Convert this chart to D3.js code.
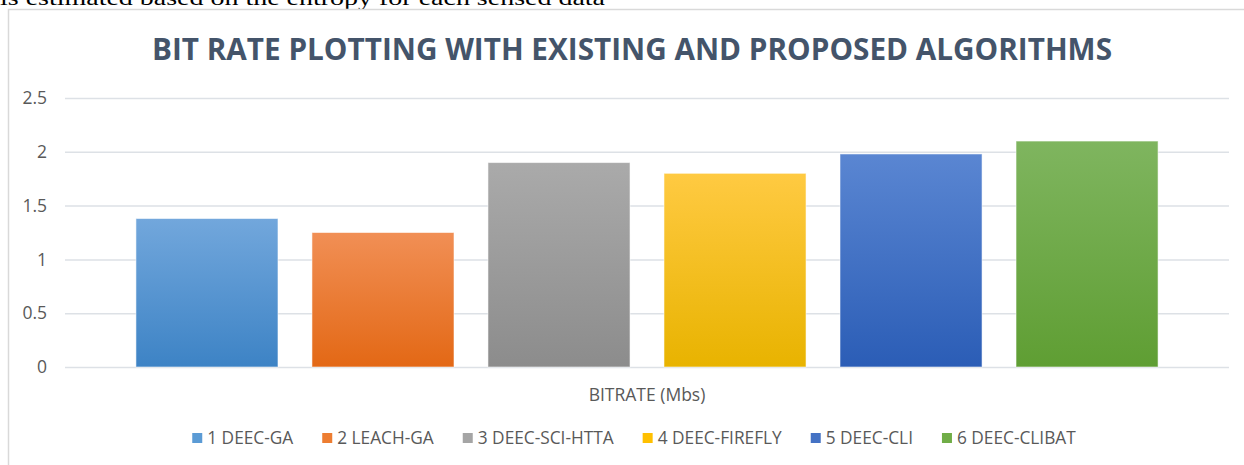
<!DOCTYPE html>
<html>
<head>
<meta charset="utf-8">
<script src="https://cdn.jsdelivr.net/npm/d3@7/dist/d3.min.js"></script>
<style>
  html, body { margin: 0; padding: 0; background: #fff; }
  svg { display: block; }
</style>
</head>
<body>
<svg id="chart" width="1244" height="465"></svg>
<script>
// ---- data ----
const categories = ["BITRATE (Mbs)"];
const seriesNames = ["1 DEEC-GA", "2 LEACH-GA", "3 DEEC-SCI-HTTA", "4 DEEC-FIREFLY", "5 DEEC-CLI", "6 DEEC-CLIBAT"];
const bitrateValues = [1.38, 1.25, 1.9, 1.8, 1.98, 2.1];
const yTickValues = [0, 0.5, 1, 1.5, 2, 2.5];
const titleText = "BIT RATE PLOTTING WITH EXISTING AND PROPOSED ALGORITHMS";
const pageText = "is estimated based on the entropy for each sensed data";

// ---- style ----
const colorsTop = ["#72a7dc", "#f18f55", "#aaaaaa", "#ffca42", "#5a86d2", "#7fb55f"];
const colorsBottom = ["#3d83c5", "#e36815", "#8c8c8c", "#e8b300", "#2b5db6", "#5f9e33"];
const colorsMid = ["#5b9bd5", "#ed7d31", "#a5a5a5", "#ffc000", "#4472c4", "#70ad47"];

const svg = d3.select("#chart");
const defs = svg.append("defs");
seriesNames.forEach((s, i) => {
  const g = defs.append("linearGradient").attr("id", "grad" + i)
    .attr("x1", 0).attr("y1", 0).attr("x2", 0).attr("y2", 1);
  g.append("stop").attr("offset", "0%").attr("stop-color", colorsTop[i]);
  g.append("stop").attr("offset", "100%").attr("stop-color", colorsBottom[i]);
});

// page text cut off at top (as in the reference scan)
svg.append("text")
  .attr("x", 0).attr("y", 5)
  .attr("font-family", "'Liberation Serif', 'DejaVu Serif', serif")
  .attr("font-size", 21)
  .attr("fill", "#000")
  .attr("textLength", 605)
  .attr("lengthAdjust", "spacingAndGlyphs")
  .text(pageText);

// chart frame (extends beyond the right/bottom edges)
svg.append("rect")
  .attr("x", 8.5).attr("y", 9.5)
  .attr("width", 1250).attr("height", 470)
  .attr("fill", "#fff")
  .attr("stroke", "#d9d9d9").attr("stroke-width", 1.5);

const plot = { left: 65, right: 1229, top: 98, bottom: 367 };

const y = d3.scaleLinear().domain([0, 2.5]).range([plot.bottom, plot.top]);
const x0 = d3.scaleBand().domain(categories).range([plot.left, plot.right]).padding(0);
const x1 = d3.scaleBand().domain(seriesNames)
  .range([0, x0.bandwidth()])
  .paddingInner(0.193).paddingOuter(0.403);

// gridlines + y labels via axis
const yAxis = d3.axisLeft(y)
  .tickValues(yTickValues)
  .tickSize(-(plot.right - plot.left))
  .tickPadding(18)
  .tickFormat(d3.format("~g"));

const gy = svg.append("g")
  .attr("transform", `translate(${plot.left},0)`)
  .call(yAxis);
gy.select(".domain").remove();
gy.selectAll(".tick line").attr("stroke", "#dde1e6").attr("stroke-width", 1.5);
gy.selectAll(".tick text")
  .attr("font-family", "'Open Sans', sans-serif")
  .attr("font-size", 17.5)
  .attr("fill", "#595959");

// bars
const cat = categories[0];
svg.append("g").selectAll("rect")
  .data(seriesNames.map((s, i) => ({ s, v: bitrateValues[i], i })))
  .join("rect")
  .attr("x", d => x0(cat) + x1(d.s))
  .attr("y", d => y(d.v))
  .attr("width", x1.bandwidth())
  .attr("height", d => y(0) - y(d.v))
  .attr("fill", d => `url(#grad${d.i})`)
  .attr("stroke", "rgba(255,255,255,0.55)")
  .attr("stroke-width", 1);

// x axis category label
svg.append("text")
  .attr("x", x0(cat) + x0.bandwidth() / 2)
  .attr("y", 401)
  .attr("text-anchor", "middle")
  .attr("font-family", "'Open Sans', sans-serif")
  .attr("font-size", 17.5)
  .attr("fill", "#595959")
  .text(cat);

// title
svg.append("text")
  .attr("x", 632).attr("y", 60)
  .attr("text-anchor", "middle")
  .attr("font-family", "'Open Sans', sans-serif")
  .attr("font-weight", "bold")
  .attr("font-size", 30)
  .attr("fill", "#44546a")
  .attr("textLength", 960)
  .attr("lengthAdjust", "spacingAndGlyphs")
  .text(titleText);

// legend
const legendCenter = 634;
const legendTextTotal = 649;
const sw = 10, swGap = 5, itemGap = 29;
const legend = svg.append("g");
const items = legend.selectAll("g").data(seriesNames).join("g");
items.append("rect")
  .attr("width", sw).attr("height", sw)
  .attr("y", 433)
  .attr("fill", (d, i) => colorsMid[i]);
const texts = items.append("text")
  .attr("y", 444)
  .attr("font-family", "'Open Sans', sans-serif")
  .attr("font-size", 17.5)
  .attr("fill", "#595959")
  .text(d => d);
let natural = 0;
texts.each(function () { natural += this.getComputedTextLength(); });
const k = legendTextTotal / natural;
texts.attr("font-size", 17.5 * k);
const widths = [];
texts.each(function () { widths.push(this.getComputedTextLength()); });
const total = d3.sum(widths) + seriesNames.length * (sw + swGap) + (seriesNames.length - 1) * itemGap;
let cx = legendCenter - total / 2;
items.each(function (d, i) {
  d3.select(this).attr("transform", `translate(${cx},0)`);
  d3.select(this).select("text").attr("x", sw + swGap);
  cx += sw + swGap + widths[i] + itemGap;
});
</script>
</body>
</html>
